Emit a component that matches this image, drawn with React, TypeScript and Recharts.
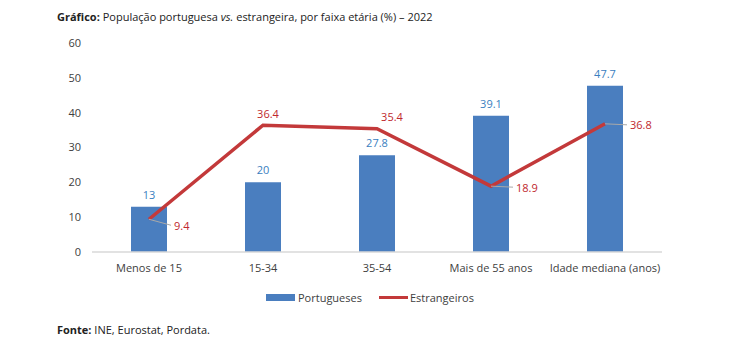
import React from "react";
import {
    ComposedChart, Bar, Line, XAxis, YAxis, LabelList
} from "recharts";

const categories = ["Menos de 15", "15-34", "35-54", "Mais de 55 anos", "Idade mediana (anos)"];
const portugueses = [13, 20, 27.8, 39.1, 47.7];
const estrangeiros = [9.4, 36.4, 35.4, 18.9, 36.8];
const yTicks = [0, 10, 20, 30, 40, 50, 60];

const data = categories.map((name, i) => ({
    name,
    portugueses: portugueses[i],
    estrangeiros: estrangeiros[i],
}));

const FONT = "'Open Sans', 'Noto Sans', sans-serif";
const BLUE = "#4A7EBF";
const BLUE_TEXT = "#3A80C0";
const RED = "#C3393A";
const RED_TEXT = "#C0282D";
const TEXT = "#404040";

// where each Estrangeiros label sits relative to its point: "right" gets a leader line
const redLabelSide = ["right", "top", "top", "right", "right"];

const RedLabel = (props: any) => {
    const { x, y, value, index } = props;
    if (redLabelSide[index] === "top") {
        return (
            <text x={x + (index === 2 ? 15 : 5)} y={y - 12} fill={RED_TEXT} fontSize={11}
                fontFamily={FONT} textAnchor="middle" dominantBaseline="central">
                {value}
            </text>
        );
    }
    const dy = index === 0 ? 6 : 1;
    return (
        <g>
            <line x1={x} y1={y} x2={x + 22} y2={y + dy} stroke="#A9A9A9" strokeWidth={1} />
            <text x={x + 25} y={y + dy} fill={RED_TEXT} fontSize={11}
                fontFamily={FONT} dominantBaseline="central">
                {value}
            </text>
        </g>
    );
};

export default function App() {
    return (
        <div style={{ position: "absolute", left: 0, top: 0, width: 744, height: 359, background: "#fff", fontFamily: FONT, color: "#222" }}>
            <div style={{ position: "absolute", left: 57, top: 9, fontSize: 11, whiteSpace: "nowrap" }}>
                <b>Gráfico:</b> População portuguesa <i>vs.</i> estrangeira, por faixa etária (%) – 2022
            </div>
            <ComposedChart
                width={744}
                height={359}
                data={data}
                margin={{ top: 43, right: 82, bottom: 77, left: 0 }}
            >
                <XAxis
                    dataKey="name"
                    tickLine={false}
                    axisLine={{ stroke: "#D9D9D9", strokeWidth: 1.5 }}
                    tick={{ fill: TEXT, fontSize: 11, fontFamily: FONT }}
                    tickMargin={6}
                    height={30}
                />
                <YAxis
                    width={92}
                    domain={[0, 60]}
                    ticks={yTicks}
                    axisLine={false}
                    tickLine={false}
                    tick={{ fill: TEXT, fontSize: 11, fontFamily: FONT }}
                    tickMargin={5}
                />
                <Bar dataKey="portugueses" name="Portugueses" fill={BLUE} barSize={36} isAnimationActive={false}>
                    <LabelList dataKey="portugueses" position="top" offset={8} fill={BLUE_TEXT} fontSize={11} fontFamily={FONT} />
                </Bar>
                <Line
                    dataKey="estrangeiros"
                    name="Estrangeiros"
                    stroke={RED}
                    strokeWidth={3.5}
                    dot={false}
                    activeDot={false}
                    isAnimationActive={false}
                >
                    <LabelList dataKey="estrangeiros" content={<RedLabel />} />
                </Line>
            </ComposedChart>
            <div style={{ position: "absolute", left: 266, top: 290, display: "flex", alignItems: "center", fontSize: 11, color: TEXT, whiteSpace: "nowrap" }}>
                <span style={{ display: "inline-block", width: 29, height: 7, background: BLUE, marginRight: 3 }} />
                <span>Portugueses</span>
                <span style={{ display: "inline-block", width: 29, height: 3, background: RED, marginLeft: 17, marginRight: 2 }} />
                <span>Estrangeiros</span>
            </div>
            <div style={{ position: "absolute", left: 57, top: 322, fontSize: 11, whiteSpace: "nowrap" }}>
                <b>Fonte:</b> INE, Eurostat, Pordata.
            </div>
        </div>
    );
}
